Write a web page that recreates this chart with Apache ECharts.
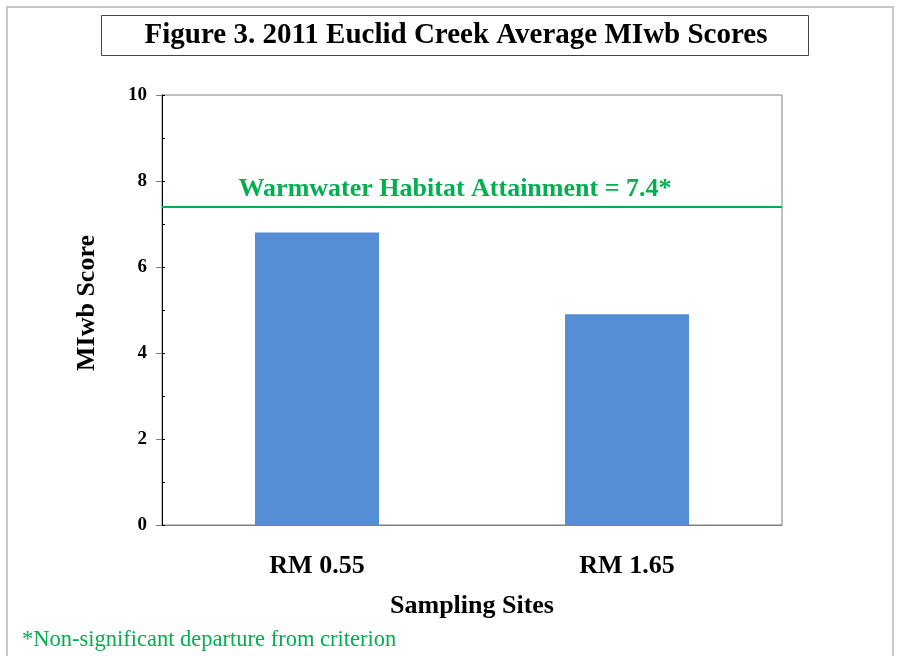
<!DOCTYPE html>
<html>
<head>
<meta charset="utf-8">
<script src="https://cdn.jsdelivr.net/npm/echarts@6/dist/echarts.min.js"></script>
<style>
  html, body { margin: 0; padding: 0; background: #fff; }
  #chart { width: 898px; height: 656px; }
</style>
</head>
<body>
<div id="chart"></div>
<script>
const sites = ['RM 0.55', 'RM 1.65'];
const scores = [6.8, 4.9];
const criterion = 7.4;

const serif = '"Liberation Serif", "Times New Roman", serif';
const green = '#00b050';

const chart = echarts.init(document.getElementById('chart'));

const option = {
    backgroundColor: '#fff',
    animation: false,
    graphic: [
        {
            type: 'rect',
            shape: { x: 7, y: 7, width: 886, height: 660 },
            style: { fill: 'none', stroke: '#c8c8c8', lineWidth: 2 }
        },
        {
            type: 'rect',
            shape: { x: 101.5, y: 15.5, width: 707, height: 40 },
            style: { fill: '#fff', stroke: '#444', lineWidth: 1 }
        },
        {
            type: 'text',
            x: 456,
            y: 36,
            style: {
                text: 'Figure 3. 2011 Euclid Creek Average MIwb Scores',
                font: 'bold 29px ' + serif,
                fill: '#000',
                align: 'center',
                verticalAlign: 'middle'
            }
        },
        {
            type: 'text',
            x: 22,
            y: 640,
            style: {
                text: '*Non-significant departure from criterion',
                font: '22.5px ' + serif,
                fill: green,
                verticalAlign: 'middle'
            }
        }
    ],
    grid: {
        left: 162,
        right: 116,
        top: 95,
        bottom: 131,
        show: true,
        borderColor: '#808080',
        borderWidth: 1
    },
    xAxis: {
        type: 'category',
        data: sites,
        name: 'Sampling Sites',
        nameLocation: 'middle',
        nameGap: 68,
        nameTextStyle: { fontFamily: serif, fontWeight: 'bold', fontSize: 26, color: '#000' },
        axisLine: { lineStyle: { color: '#808080' } },
        axisTick: { show: false },
        axisLabel: {
            fontFamily: serif, fontWeight: 'bold', fontSize: 26, color: '#000', margin: 28
        }
    },
    yAxis: [
        {
            type: 'value',
            min: 0,
            max: 10,
            interval: 2,
            name: 'MIwb Score',
            nameLocation: 'middle',
            nameGap: 62,
            nameTextStyle: { fontFamily: serif, fontWeight: 'bold', fontSize: 26, color: '#000', padding: [0, 0, 0, 14] },
            axisLine: { show: true, lineStyle: { color: '#000' } },
            axisTick: { show: true, length: 6, lineStyle: { color: '#808080' } },
            axisLabel: { fontFamily: serif, fontWeight: 'bold', fontSize: 19, color: '#000', margin: 15 },
            splitLine: { show: false }
        },
        {
            type: 'value',
            position: 'left',
            min: 0,
            max: 10,
            interval: 1,
            axisLine: { show: false },
            axisTick: { show: true, inside: true, length: 3, lineStyle: { color: '#000' } },
            axisLabel: { show: false },
            splitLine: { show: false }
        }
    ],
    series: [
        {
            type: 'bar',
            data: scores,
            barWidth: '40%',
            itemStyle: { color: '#558ed5' },
            markLine: {
                silent: true,
                symbol: 'none',
                lineStyle: { color: green, width: 2, type: 'solid' },
                label: {
                    show: true,
                    position: 'insideMiddleTop',
                    formatter: 'Warmwater Habitat Attainment = ' + criterion + '*',
                    fontFamily: serif,
                    fontWeight: 'bold',
                    fontSize: 26,
                    color: green,
                    distance: 5,
                    padding: [0, 34, 0, 0]
                },
                data: [{ yAxis: criterion }]
            }
        }
    ]
};

chart.setOption(option);
</script>
</body>
</html>
